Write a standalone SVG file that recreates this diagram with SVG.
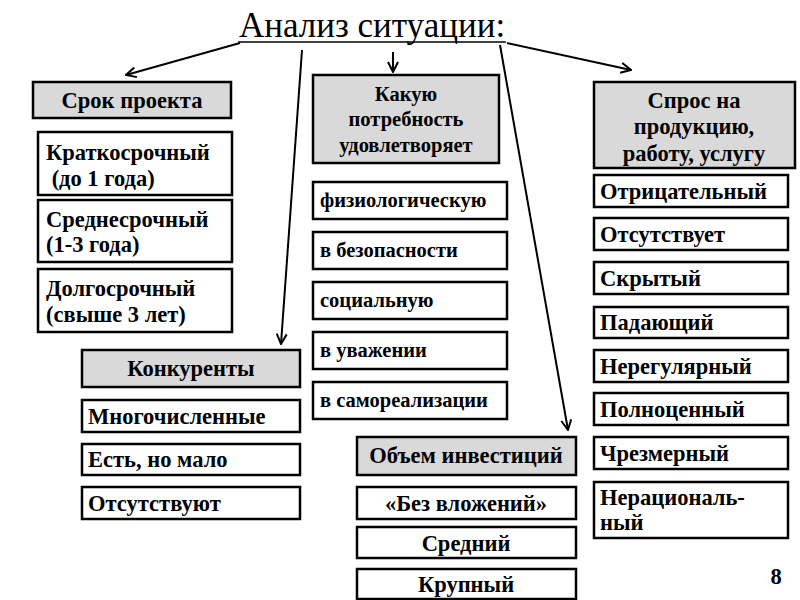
<svg xmlns="http://www.w3.org/2000/svg" width="800" height="600" viewBox="0 0 800 600">
<defs>
<marker id="ah" viewBox="0 0 12 12" refX="11" refY="6" markerWidth="12" markerHeight="12" markerUnits="userSpaceOnUse" orient="auto">
<path d="M1,1 L11,6 L1,11" fill="none" stroke="#000" stroke-width="2"/>
</marker>
<style>
.b{fill:#fff;stroke:#000;stroke-width:2.5}
.h{fill:#d9d9d9;stroke:#000;stroke-width:2.5}
.t{font-size:22.5px;font-weight:bold}
.s{font-size:20.5px;font-weight:bold}
.c{text-anchor:middle}
.ln{stroke:#000;stroke-width:2;fill:none;marker-end:url(#ah)}
</style>
</defs>
<rect width="800" height="600" fill="#fff"/>
<g font-family="Liberation Serif, Times New Roman, serif" fill="#000">
<g id="title">
<text x="372" y="37" class="c" font-size="35">Анализ ситуации:</text>
<line x1="238" y1="42" x2="506" y2="42" stroke="#000" stroke-width="1.5"/>
</g>
<g id="connectors">
<line class="ln" x1="240" y1="43" x2="126" y2="75"/>
<line class="ln" x1="302" y1="50" x2="281" y2="344"/>
<line class="ln" x1="393" y1="52" x2="393" y2="72"/>
<line class="ln" x1="500" y1="45" x2="568" y2="430"/>
<line class="ln" x1="507" y1="43" x2="631" y2="70"/>
</g>
<g id="srok">
<rect class="h" x="33" y="82" width="198" height="36"/>
<text class="t c" x="132" y="108">Срок проекта</text>
</g>
<g id="kratko">
<rect class="b" x="38" y="132" width="194" height="63"/>
<text class="t" x="46" y="160">Краткосрочный</text>
<text class="t" x="46" y="186" xml:space="preserve"> (до 1 года)</text>
</g>
<g id="sredne">
<rect class="b" x="38" y="200" width="194" height="62"/>
<text class="t" x="46" y="227">Среднесрочный</text>
<text class="t" x="46" y="252">(1-3 года)</text>
</g>
<g id="dolgo">
<rect class="b" x="38" y="269" width="194" height="63"/>
<text class="t" x="46" y="296">Долгосрочный</text>
<text class="t" x="46" y="322">(свыше 3 лет)</text>
</g>
<g id="potreb">
<rect class="h" x="313" y="75" width="186" height="88"/>
<text class="s c" x="406" y="101">Какую</text>
<text class="s c" x="406" y="126">потребность</text>
<text class="s c" x="406" y="152">удовлетворяет</text>
</g>
<g id="fiz"><rect class="b" x="313" y="182" width="194" height="37"/><text class="s" x="320" y="207">физиологическую</text></g>
<g id="bez"><rect class="b" x="313" y="232" width="194" height="37"/><text class="s" x="320" y="257">в безопасности</text></g>
<g id="soc"><rect class="b" x="313" y="282" width="194" height="37"/><text class="s" x="320" y="307">социальную</text></g>
<g id="uvaz"><rect class="b" x="313" y="332" width="194" height="37"/><text class="s" x="320" y="357">в уважении</text></g>
<g id="samo"><rect class="b" x="313" y="382" width="194" height="37"/><text class="s" x="320" y="407">в самореализации</text></g>
<g id="spros">
<rect class="h" x="594" y="82" width="201" height="86"/>
<text class="t c" x="694" y="108">Спрос на</text>
<text class="t c" x="694" y="134">продукцию,</text>
<text class="t c" x="694" y="161">работу, услугу</text>
</g>
<g id="otr"><rect class="b" x="594" y="175" width="194" height="32"/><text class="t" x="600" y="199">Отрицательный</text></g>
<g id="ots"><rect class="b" x="594" y="218" width="194" height="32"/><text class="t" x="600" y="242">Отсутствует</text></g>
<g id="skr"><rect class="b" x="594" y="262" width="194" height="32"/><text class="t" x="600" y="286">Скрытый</text></g>
<g id="pad"><rect class="b" x="594" y="307" width="194" height="31"/><text class="t" x="600" y="330">Падающий</text></g>
<g id="nereg"><rect class="b" x="594" y="350" width="194" height="32"/><text class="t" x="600" y="374">Нерегулярный</text></g>
<g id="poln"><rect class="b" x="594" y="393" width="194" height="32"/><text class="t" x="600" y="417">Полноценный</text></g>
<g id="chrez"><rect class="b" x="594" y="437" width="194" height="32"/><text class="t" x="600" y="461">Чрезмерный</text></g>
<g id="nerac"><rect class="b" x="594" y="482" width="194" height="56"/><text class="t" x="600" y="505">Нерациональ-</text><text class="t" x="600" y="530">ный</text></g>
<g id="konk"><rect class="h" x="82" y="350" width="218" height="37"/><text class="t c" x="191" y="376">Конкуренты</text></g>
<g id="mnog"><rect class="b" x="82" y="400" width="218" height="32"/><text class="t" x="88" y="424">Многочисленные</text></g>
<g id="est"><rect class="b" x="82" y="444" width="218" height="31"/><text class="t" x="88" y="467">Есть, но мало</text></g>
<g id="otsk"><rect class="b" x="82" y="487" width="218" height="32"/><text class="t" x="88" y="511">Отсутствуют</text></g>
<g id="obem"><rect class="h" x="357" y="437" width="219" height="38"/><text class="t c" x="466" y="463">Объем инвестиций</text></g>
<g id="bezv"><rect class="b" x="357" y="487" width="219" height="32"/><text class="t c" x="466" y="511">«Без вложений»</text></g>
<g id="sred"><rect class="b" x="357" y="527" width="219" height="31"/><text class="t c" x="466" y="551">Средний</text></g>
<g id="krup"><rect class="b" x="357" y="569" width="219" height="30"/><text class="t c" x="466" y="592">Крупный</text></g>
<text x="776" y="584" class="t c">8</text>
</g>
</svg>
